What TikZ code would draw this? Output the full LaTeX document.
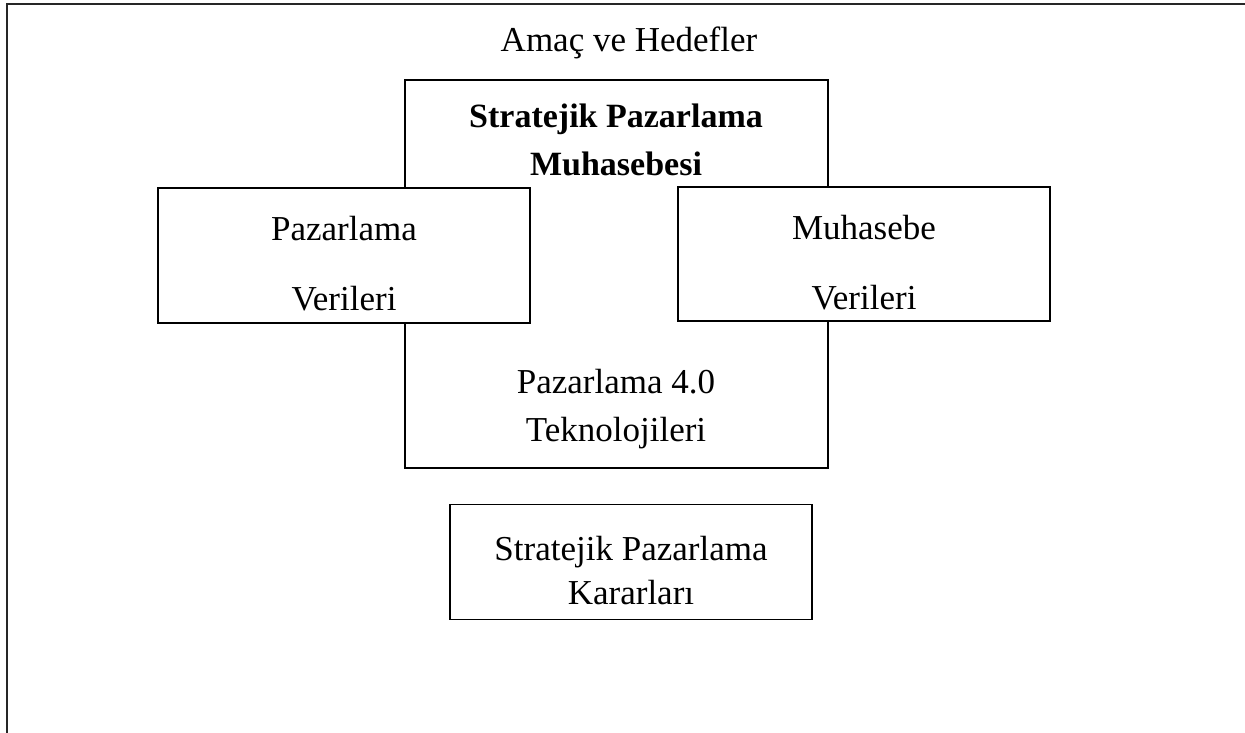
\documentclass[tikz,border=0pt]{standalone}
\usepackage{fontspec}
\setmainfont{Liberation Serif}
\begin{document}
\begin{tikzpicture}[x=1pt,y=-1pt,
  boxstyle/.style={draw=black,line width=1.4pt,fill=white,inner sep=0pt},
  txt/.style={align=center,inner sep=0pt,font=\fontsize{35}{48}\selectfont},
  widetxt/.style={align=center,inner sep=0pt,font=\fontsize{35}{70}\selectfont}]
\useasboundingbox (0,0) rectangle (1245,733);
\coordinate (fbl) at (7,733);
\coordinate (ftl) at (7,4);
\coordinate (ftr) at (1245,4);
\draw[line width=2.2pt,black!85] (fbl) -- (ftl) -- (ftr);
\node[txt] (goal) at (629,43) {Amaç ve Hedefler};
\node[boxstyle,minimum width=423pt,minimum height=388pt] (center) at (616.5,274) {};
\node[txt,font=\fontsize{34}{48}\selectfont\bfseries] (spm) at (616,140) {Stratejik Pazarlama\\Muhasebesi};
\node[txt] (p40) at (616,409) {Pazarlama 4.0\\Teknolojileri};
\node[boxstyle,minimum width=372pt,minimum height=135pt] (left) at (344,255.5) {};
\node[widetxt] (lefttxt) at (344,264) {Pazarlama\\Verileri};
\node[boxstyle,minimum width=372pt,minimum height=134pt] (right) at (864,254) {};
\node[widetxt] (righttxt) at (864,263) {Muhasebe\\Verileri};
\node[boxstyle,minimum width=362pt,minimum height=115pt] (bottom) at (631,562) {};
\node[txt,font=\fontsize{35}{44}\selectfont] (bottomtxt) at (631,571) {Stratejik Pazarlama\\Kararları};
\end{tikzpicture}
\end{document}
